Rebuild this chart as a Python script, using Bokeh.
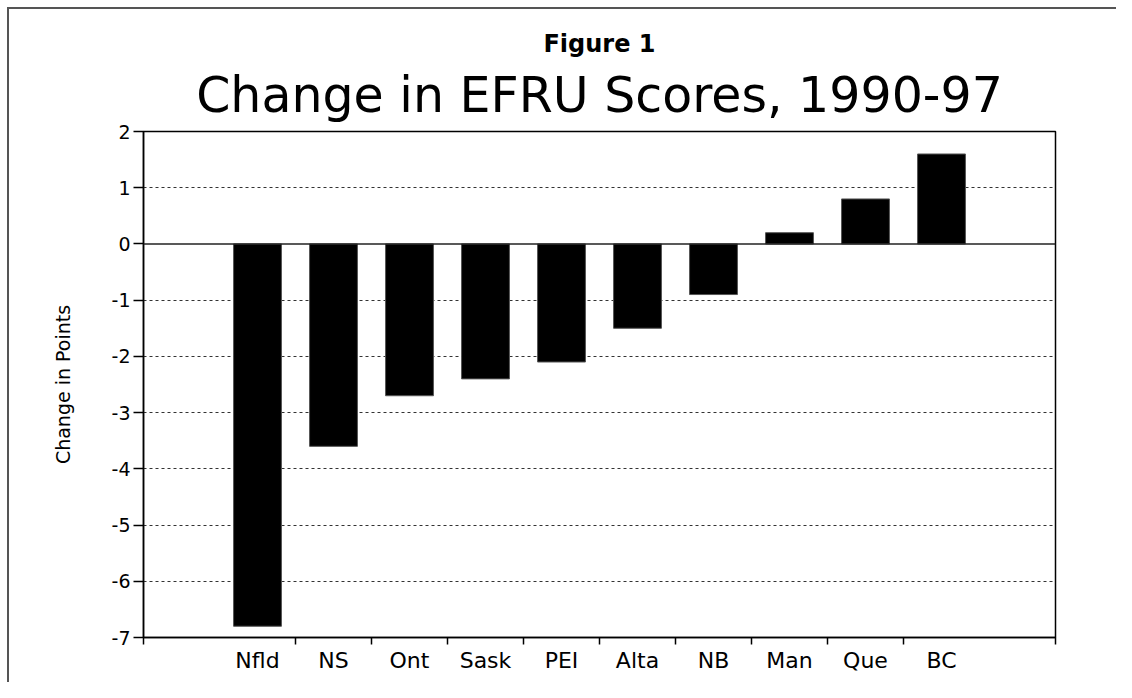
from bokeh.plotting import figure
from bokeh.models import (FixedTicker, Span, Title, Range1d, ColumnDataSource,
                          PrintfTickFormatter)
from bokeh.embed import file_html
from bokeh.resources import INLINE

# ---- data ----
provinces = ["Nfld", "NS", "Ont", "Sask", "PEI", "Alta", "NB", "Man", "Que", "BC"]
changes = [-6.8, -3.6, -2.7, -2.4, -2.1, -1.5, -0.9, 0.2, 0.8, 1.6]
y_ticks = [-7, -6, -5, -4, -3, -2, -1, 0, 1, 2]
grid_values = [-6, -5, -4, -3, -2, -1, 1]
fig_label = "Figure 1"
main_title = "Change in EFRU Scores, 1990-97"
y_label = "Change in Points"

n = len(provinces)
x_pos = [i + 1.5 for i in range(n)]
src = ColumnDataSource(dict(x=x_pos, top=changes, name=provinces))

FONT = "DejaVu Sans"

p = figure(width=1116, height=682, output_backend="svg", toolbar_location=None,
           x_range=Range1d(0, n + 2), y_range=Range1d(min(y_ticks), max(y_ticks)),
           min_border_left=143, min_border_right=61, min_border_top=131, min_border_bottom=45,
           background_fill_color="white", border_fill_color=None)

# outer frame of the picture (only its left and top edges fall inside the view)
p.styles = {"background": "linear-gradient(#555555, #555555) 7px 7px / 2px 100% no-repeat, "
                          "linear-gradient(#555555, #555555) 7px 7px / 100% 2px no-repeat, "
                          "#ffffff",
            "overflow": "hidden"}

p.vbar(x="x", top="top", bottom=0, width=0.63, source=src,
       fill_color="black", line_color="#555555", line_width=1)

# grid
p.xgrid.visible = False
p.ygrid.ticker = FixedTicker(ticks=grid_values)
p.ygrid.grid_line_color = "#333333"
p.ygrid.grid_line_dash = "3 3"
p.ygrid.grid_line_width = 1

p.add_layout(Span(location=0, dimension="width", line_color="#222222", line_width=1.5))

p.outline_line_color = "black"
p.outline_line_width = 1.5
p.outline_line_alpha = 1

# x axis
minor = [0] + list(range(2, n + 1)) + [n + 2]
p.xaxis.ticker = FixedTicker(ticks=x_pos, minor_ticks=minor)
p.xaxis.major_label_overrides = {float(x): nm for x, nm in zip(x_pos, provinces)}
p.xaxis.major_tick_line_color = None
p.xaxis.major_tick_out = 7
p.xaxis.major_tick_in = 0
p.xaxis.minor_tick_line_color = "black"
p.xaxis.minor_tick_line_width = 1.5
p.xaxis.minor_tick_out = 7
p.xaxis.minor_tick_in = 0
p.xaxis.axis_line_color = "black"
p.xaxis.axis_line_width = 1.5
p.xaxis.major_label_text_font = FONT
p.xaxis.major_label_text_font_size = "22px"
p.xaxis.major_label_text_color = "black"
p.xaxis.major_label_standoff = 3

# y axis
p.yaxis.ticker = FixedTicker(ticks=y_ticks)
p.yaxis.formatter = PrintfTickFormatter(format="%d")
p.yaxis.major_tick_out = 10
p.yaxis.major_tick_in = 0
p.yaxis.major_tick_line_color = "black"
p.yaxis.major_tick_line_width = 1.5
p.yaxis.minor_tick_line_color = None
p.yaxis.axis_line_color = "black"
p.yaxis.axis_line_width = 1.5
p.yaxis.major_label_text_font = FONT
p.yaxis.major_label_text_font_size = "19px"
p.yaxis.major_label_text_color = "black"
p.yaxis.major_label_standoff = 3
p.yaxis.axis_label = y_label
p.yaxis.axis_label_text_font = FONT
p.yaxis.axis_label_text_font_size = "19px"
p.yaxis.axis_label_text_font_style = "normal"
p.yaxis.axis_label_text_color = "black"
p.yaxis.axis_label_standoff = 35

# titles: p.title sits outermost, added titles sit closer to the frame
p.title.text = fig_label
p.title.align = "center"
p.title.text_font = FONT
p.title.text_font_size = "24px"
p.title.text_font_style = "bold"
p.title.text_color = "black"
p.title.standoff = 0

p.add_layout(Title(text=main_title, align="center", text_font=FONT, text_font_size="49px",
                   text_font_style="normal", text_color="black", standoff=15), "above")

open("out.html", "w").write(file_html(p, INLINE))
